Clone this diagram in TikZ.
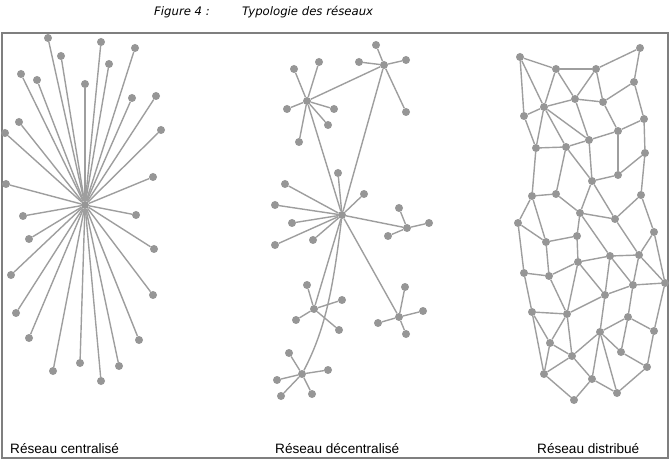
\documentclass[tikz,border=0pt]{standalone}
\usepackage{fontspec}
\newfontfamily\titlefont{DejaVu Sans}
\newfontfamily\labelfont{Liberation Sans}
\definecolor{dotgray}{HTML}{969696}
\definecolor{linkgray}{HTML}{9E9E9E}
\definecolor{framegray}{HTML}{7F7F7F}
\tikzset{
  dot/.style={circle,fill=dotgray,inner sep=0pt,minimum size=8pt},
  link/.style={draw=linkgray,line width=1.4pt},
  caption/.style={anchor=base west,inner sep=0pt,font=\labelfont\fontsize{13.6}{16}\selectfont},
  heading/.style={anchor=base west,inner sep=0pt,font=\titlefont\itshape\fontsize{11.7}{14}\selectfont},
}

\begin{document}
\begin{tikzpicture}[x=1pt,y=-1pt]
  \useasboundingbox (0,0) rectangle (672,462); % page size in pixels
  \node[heading] (fig) at (154,16) {Figure 4 :};
  \node[heading] (title) at (242,16) {Typologie des réseaux};
  \draw[framegray,line width=1.3pt] (2,33) rectangle (668,458); % frame

  % centralised network: one hub
  \node[dot] (c0) at (85,205) {};
  \foreach \x/\y [count=\i] in {48/38,101/42,135/48,61/56,109/64,21/74,37/80,85/84,
      132/98,156/96,19/122,5/133,161/130,6/184,153/177,23/216,136/215,29/239,
      154/249,11/275,153/295,16/313,29/338,139/340,53/371,80/363,119/366,101/381}{
    \node[dot] (c\i) at (\x,\y) {};
    \draw[link] (c0) -- (c\i);
  }
  \node[caption] (capc) at (10,453) {Réseau centralisé};

  % decentralised network: several hubs
  \node[dot] (hA) at (307,101) {};
  \node[dot] (hB) at (384,65) {};
  \node[dot] (hC) at (342,215) {};
  \node[dot] (hD) at (407,228) {};
  \node[dot] (hE) at (314,309) {};
  \node[dot] (hF) at (399,317) {};
  \node[dot] (hG) at (302,374) {};
  \foreach \x/\y [count=\i] in {294/69,319/62,287/109,334/109,328/125,299/142}{
    \node[dot] (a\i) at (\x,\y) {};
    \draw[link] (hA) -- (a\i);
  }
  \foreach \x/\y [count=\i] in {376/45,359/62,406/60,406/112}{
    \node[dot] (b\i) at (\x,\y) {};
    \draw[link] (hB) -- (b\i);
  }
  \foreach \x/\y [count=\i] in {338/173,285/184,364/194,275/205,292/223,275/245,313/240}{
    \node[dot] (m\i) at (\x,\y) {};
    \draw[link] (hC) -- (m\i);
  }
  \foreach \x/\y [count=\i] in {399/208,429/223,388/236}{
    \node[dot] (e\i) at (\x,\y) {};
    \draw[link] (hD) -- (e\i);
  }
  \foreach \x/\y [count=\i] in {307/285,342/300,296/320,339/330}{
    \node[dot] (f\i) at (\x,\y) {};
    \draw[link] (hE) -- (f\i);
  }
  \foreach \x/\y [count=\i] in {405/287,423/311,378/323,406/334}{
    \node[dot] (g\i) at (\x,\y) {};
    \draw[link] (hF) -- (g\i);
  }
  \foreach \x/\y [count=\i] in {289/353,328/370,277/380,281/396,312/394}{
    \node[dot] (k\i) at (\x,\y) {};
    \draw[link] (hG) -- (k\i);
  }
  \foreach \p/\q in {hA/hB,hC/hA,hC/hB,hC/hD,hC/hE,hC/hF}
    \draw[link] (\p) -- (\q);
  \draw[link] (hC) .. controls (333,290) and (325,330) .. (hG); % bent link
  \node[caption] (capd) at (275,453) {Réseau décentralisé};

  % distributed network: a mesh
  \foreach \x/\y [count=\i] in {520/57,640/48,556/69,596/69,634/82,575/99,603/102,
      544/107,524/116,644/119,618/131,589/140,566/147,536/148,645/153,618/175,
      592/181,532/196,556/194,641/195,580/213,615/219,518/223,654/232,546/242,
      577/236,610/256,639/255,578/262,524/273,549/276,665/283,633/285,605/295,
      532/312,567/314,628/317,654/331,600/332,550/343,621/352,572/356,647/367,
      544/374,592/379,617/393,574/400}
    \node[dot] (d\i) at (\x,\y) {};
  \foreach \a/\b in {1/3,3/4,4/2,2/5,1/9,1/8,3/8,3/6,4/6,4/7,6/7,6/8,5/7,5/10,
      8/9,8/14,8/13,8/12,6/12,7/11,11/12,10/11,10/15,12/13,13/14,9/14,14/18,
      13/19,13/17,12/17,11/16,15/16,15/20,16/17,17/22,17/21,20/22,20/24,18/19,
      18/23,18/25,19/21,21/26,21/22,21/27,23/25,25/26,23/30,25/31,26/29,30/31,
      31/29,29/27,29/34,22/28,27/28,28/24,24/32,28/32,27/33,28/33,30/35,31/36,
      35/36,29/36,36/34,34/33,33/32,27/34,34/39,39/37,37/33,37/38,38/32,38/43,
      39/41,41/37,41/43,35/40,36/40,36/42,40/42,35/44,40/44,42/44,39/42,42/45,
      39/45,39/46,44/47,45/47,45/46,46/43}
    \draw[link] (d\a) -- (d\b);
  \node[caption] (capr) at (537,453) {Réseau distribué};
\end{tikzpicture}
\end{document}
